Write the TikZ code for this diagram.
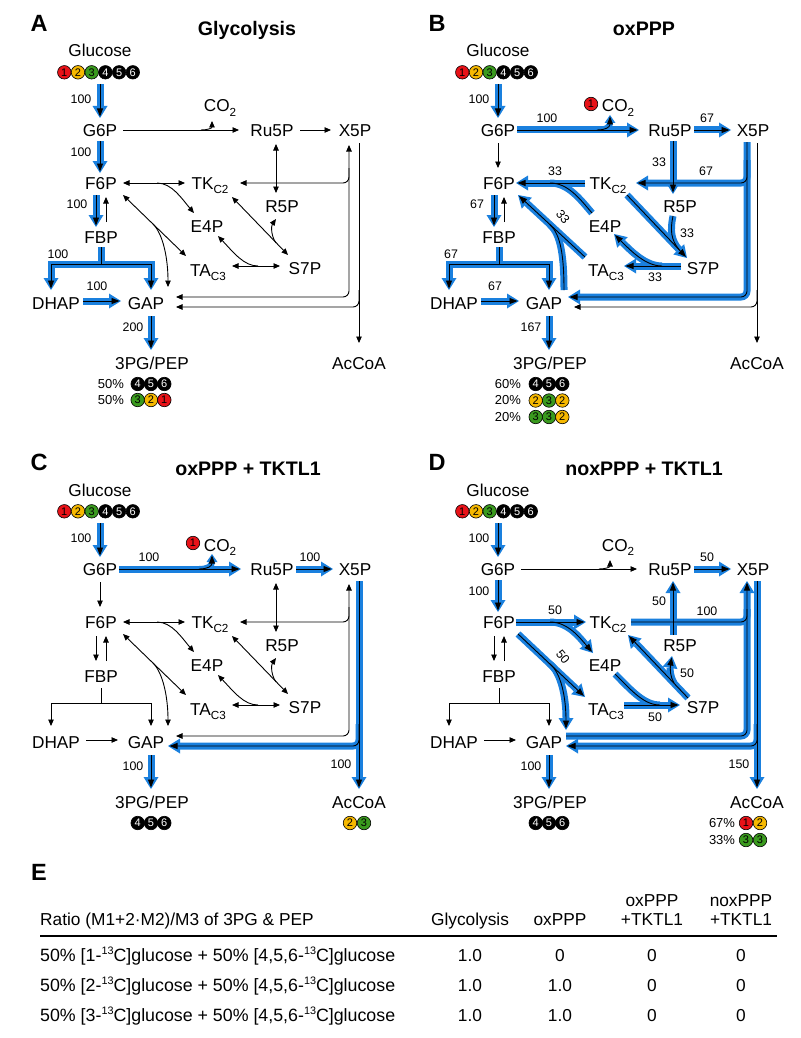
\documentclass[tikz,border=0pt]{standalone}
\usepackage{fontspec}
\setmainfont{Liberation Sans}
\usetikzlibrary{arrows.meta}
\definecolor{fluxblue}{RGB}{26,128,222}
\definecolor{cred}{RGB}{232,18,24}
\definecolor{cyel}{RGB}{246,184,0}
\definecolor{cgrn}{RGB}{58,154,30}
\pgfdeclarelayer{bg}
\pgfsetlayers{bg,main}
\newcommand{\sbs}[1]{\raisebox{-4.5pt}{\fontsize{11.7}{12}\selectfont #1}}
\newcommand{\sps}[1]{\raisebox{6.5pt}{\fontsize{10.8}{11}\selectfont #1}}
\newcommand{\fab}[3]{\begin{pgfonlayer}{bg}\draw[band,#1] #3;\end{pgfonlayer}\draw[innerarr,#2] #3;}
\newcommand{\fa}[2][]{\fab{#1}{#1}{#2}}
\newcommand{\cblk}[4]{\node[lbc,fill=black,text=white] (#1) at (#2,#3) {#4};}
\newcommand{\ccol}[5]{\node[lbc,fill=#5,text=black] (#1) at (#2,#3) {#4};}
\tikzset{
  met/.style={anchor=base, inner sep=0pt, font=\fontsize{17.2}{20}\selectfont},
  num/.style={inner sep=0pt, font=\fontsize{12.4}{14}\selectfont},
  pct/.style={inner sep=0pt, font=\fontsize{13}{15}\selectfont},
  ttl/.style={anchor=base, inner sep=0pt, font=\bfseries\fontsize{19.6}{22}\selectfont},
  plab/.style={anchor=base, inner sep=0pt, font=\bfseries\fontsize{23.5}{26}\selectfont},
  tab/.style={anchor=base, inner sep=0pt, font=\fontsize{17.3}{20}\selectfont},
  tabrow/.style={anchor=base west, inner sep=0pt, font=\fontsize{17.8}{20}\selectfont},
  lbc/.style={circle, draw=black, line width=0.6pt, minimum size=13.5pt, inner sep=0pt, font=\fontsize{11}{11}\selectfont},
  thn/.style={line width=0.9pt, -{Triangle[length=6.5pt,width=5.5pt]}},
  thnb/.style={line width=0.9pt, {Triangle[length=6.5pt,width=5.5pt]}-{Triangle[length=6.5pt,width=5.5pt]}},
  band/.style={line width=7pt, draw=fluxblue, -{Triangle[length=12pt,width=15pt,line width=0pt]}},
  innerarr/.style={line width=0.9pt, draw=black, -{Triangle[length=8pt,width=6pt]}, shorten >=1.5pt},
  nohead/.style={-, shorten >=0pt},
  co2band/.style={line width=6pt, -{Triangle[length=8pt,width=11pt,line width=0pt]}}
}
\newcommand{\mets}[1]{%
  \node[met] (#1-glc) at (100,57) {Glucose};
  \node[met] (#1-g6p) at (100,136) {G6P};
  \node[met] (#1-co2) at (220,112) {CO\sbs{2}};
  \node[met] (#1-ru5p) at (272,136) {Ru5P};
  \node[met] (#1-x5p) at (355,136) {X5P};
  \node[met] (#1-f6p) at (101,189) {F6P};
  \node[met] (#1-tk) at (210,189) {TK\sbs{C2}};
  \node[met] (#1-r5p) at (282,212) {R5P};
  \node[met] (#1-e4p) at (207,232) {E4P};
  \node[met] (#1-fbp) at (101,243) {FBP};
  \node[met] (#1-ta) at (208,276) {TA\sbs{C3}};
  \node[met] (#1-s7p) at (305,274) {S7P};
  \node[met] (#1-dhap) at (56,309) {DHAP};
  \node[met] (#1-gap) at (146,309) {GAP};
  \node[met] (#1-pg) at (152,369) {3PG/PEP};
  \node[met] (#1-accoa) at (359,369) {AcCoA};
  \ccol{#1-c1}{64.3}{72.3}{1}{cred}
  \ccol{#1-c2}{78}{72.3}{2}{cyel}
  \ccol{#1-c3}{91.7}{72.3}{3}{cgrn}
  \cblk{#1-c4}{105.4}{72.3}{4}
  \cblk{#1-c5}{119.1}{72.3}{5}
  \cblk{#1-c6}{132.8}{72.3}{6}
  \fa{(100,84) -- (100,118)}
  \fa{(151,316) -- (151,350)}
}
\newcommand{\midthin}{%
  \draw[thnb] (123,183) -- (185,183);
  \draw[thn] (157,183) .. controls (172,183) and (182,199) .. (194,213);
  \draw[thnb] (123,195) -- (186,256);
  \draw[thn] (153,224) .. controls (163,234) and (168,258) .. (168,287);
  \draw[thnb] (232,197) -- (288,255);
  \draw[thn] (276,243) .. controls (271,236) and (271,226) .. (276,219);
  \draw[thnb] (232,266) -- (280,266);
  \draw[thn] (258,266) .. controls (244,266) and (234,253) .. (218,236);
}
\newcommand{\gthin}{%
  \draw[thn] (123,130) -- (239,130);
  \draw[thn] (201,130) .. controls (208,130) and (212,128) .. (212,121);
}
\newcommand{\gblue}{%
  \fa{(119,130) -- (241,130)}
  \fab{co2band}{}{(199,130) .. controls (208,130) and (212,127) .. (212,115)}
}
\newcommand{\leftthin}{%
  \draw[thnb, rounded corners=6pt] (176,297) -| (349,145);
  \draw[thn, rounded corners=6pt] (349,168) |- (240,183);
}
\newcommand{\rightthin}{%
  \draw[thn] (359,143) -- (359,343);
  \draw[thn, rounded corners=6pt] (359,290) |- (176,307);
}
\newcommand{\rightblue}{%
  \fa{(359,142) -- (359,350)}
  \fa[rounded corners=6pt]{(359,285) |- (168,307)}
}
\newcommand{\lowblue}{%
  \fa{(96,195) -- (96,227)}
  \draw[thn] (106,222) -- (106,197);
  \fa[nohead]{(101,247) -- (101,264)}
  \fa{(101,264) -| (51,290)}
  \fa{(101,264) -| (151,290)}
  \fa{(83,301) -- (121,301)}
}
\newcommand{\lowthin}{%
  \draw[thn] (96,197) -- (96,222);
  \draw[thn] (106,222) -- (106,197);
  \draw[thn] (101,249) -- (101,264) -| (51,287);
  \draw[thn] (101,264) -| (151,287);
  \draw[thn] (86,301) -- (118,301);
}
\newcommand{\pgsix}[1]{%
  \cblk{#1-p4}{137.7}{384}{4}
  \cblk{#1-p5}{151}{384}{5}
  \cblk{#1-p6}{164.3}{384}{6}
}
\begin{document}
\begin{tikzpicture}[x=1pt,y={(0pt,-1pt)}]
\useasboundingbox (0,0) rectangle (800,1038);
\begin{pgfonlayer}{bg}\fill[white] (0,0) rectangle (800,1038);\end{pgfonlayer}

% ---------------- Panel A
\begin{scope}
  \mets{A}
  \node[plab] (A-lab) at (39,31.7) {A};
  \node[ttl] (A-ttl) at (247,36) {Glycolysis};
  \fa{(100,141) -- (100,173)}
  \gthin
  \draw[thn] (300,130) -- (331,130);
  \draw[thnb] (276,144) -- (276,193);
  \midthin
  \leftthin
  \rightthin
  \lowblue
  \node[num] (A-n1) at (81,99) {100};
  \node[num] (A-n2) at (81,152) {100};
  \node[num] (A-n3) at (77,204) {100};
  \node[num] (A-n4) at (58,254) {100};
  \node[num] (A-n5) at (97,286) {100};
  \node[num] (A-n6) at (133,327) {200};
  \node[pct] (A-q1) at (111,384) {50\%};
  \pgsix{A}
  \node[pct] (A-q2) at (111,400) {50\%};
  \ccol{A-r3}{137.7}{400}{3}{cgrn}
  \ccol{A-r2}{151}{400}{2}{cyel}
  \ccol{A-r1}{164.3}{400}{1}{cred}
\end{scope}

% ---------------- Panel B
\begin{scope}[shift={(398,0)}]
  \mets{B}
  \node[plab] (B-lab) at (39,31.7) {B};
  \node[ttl] (B-ttl) at (246,36) {oxPPP};
  \ccol{B-co2c}{193}{104}{1}{cred}
  \draw[thn] (100,143) -- (100,168);
  \gblue
  \fa{(296,130) -- (333,130)}
  \fa{(275,141) -- (275,194)}
  \fa{(187,183) -- (118,183)}
  \fa[nohead]{(194,213) .. controls (182,199) and (170,183) .. (152,183)}
  \fa{(187,257) -- (120,195)}
  \fa[nohead]{(166,290) .. controls (166,258) and (163,234) .. (152,225)}
  \fa{(229,195) -- (289,258)}
  \fa[nohead]{(275,216) .. controls (272,230) and (273,240) .. (281,249.5)}
  \fa{(283,266) -- (226,266)}
  \fa{(264,266) .. controls (248,266) and (234,252) .. (216,234)}
  \fa[rounded corners=6pt]{(349,142) |- (170,297)}
  \fa[rounded corners=6pt]{(349,160) |- (238,183)}
  \rightthin
  \lowblue
  \node[num] (B-n1) at (81,99) {100};
  \node[num] (B-n2) at (149,118) {100};
  \node[num] (B-n3) at (309,118) {67};
  \node[num] (B-n4) at (261,162) {33};
  \node[num] (B-n5) at (308,171) {67};
  \node[num] (B-n6) at (157,171) {33};
  \node[num, rotate=-50] (B-n7) at (165,217) {33};
  \node[num] (B-n8) at (289,233) {33};
  \node[num] (B-n9) at (257,277) {33};
  \node[num] (B-n10) at (79,204) {67};
  \node[num] (B-n11) at (53,254) {67};
  \node[num] (B-n12) at (97,286) {67};
  \node[num] (B-n13) at (133,327) {167};
  \node[pct] (B-q1) at (110,384) {60\%};
  \pgsix{B}
  \node[pct] (B-q2) at (110,400.5) {20\%};
  \ccol{B-r1}{137.7}{400.5}{2}{cyel}
  \ccol{B-r2}{151}{400.5}{3}{cgrn}
  \ccol{B-r3}{164.3}{400.5}{2}{cyel}
  \node[pct] (B-q3) at (110,417) {20\%};
  \ccol{B-s1}{137.7}{417}{3}{cgrn}
  \ccol{B-s2}{151}{417}{3}{cgrn}
  \ccol{B-s3}{164.3}{417}{2}{cyel}
\end{scope}

% ---------------- Panel C
\begin{scope}[shift={(0,439)}]
  \mets{C}
  \node[plab] (C-lab) at (39,31.7) {C};
  \node[ttl] (C-ttl) at (248,36) {oxPPP + TKTL1};
  \ccol{C-co2c}{193}{104}{1}{cred}
  \draw[thn] (100,143) -- (100,168);
  \gblue
  \fa{(296,130) -- (333,130)}
  \draw[thnb] (276,144) -- (276,193);
  \midthin
  \leftthin
  \rightblue
  \lowthin
  \node[num] (C-n1) at (81,99) {100};
  \node[num] (C-n2) at (149,118) {100};
  \node[num] (C-n3) at (310,118) {100};
  \node[num] (C-n4) at (341,325) {100};
  \node[num] (C-n5) at (133,327) {100};
  \pgsix{C}
  \ccol{C-a2}{350}{384}{2}{cyel}
  \ccol{C-a3}{364}{384}{3}{cgrn}
\end{scope}

% ---------------- Panel D
\begin{scope}[shift={(398,439)}]
  \mets{D}
  \node[plab] (D-lab) at (39,31.7) {D};
  \node[ttl] (D-ttl) at (246,36) {noxPPP + TKTL1};
  \fa{(100,141) -- (100,173)}
  \gthin
  \fa{(296,130) -- (333,130)}
  \fa[rounded corners=6pt]{(168,297) -| (349,142)}
  \fa[nohead,rounded corners=6pt]{(233,183) -| (349,170)}
  \fa{(275,196) -- (275,142)}
  \fa{(118,183) -- (188,183)}
  \fa{(152,183) .. controls (170,183) and (182,199) .. (195,214)}
  \fa{(120,195) -- (187,258)}
  \fa{(152,225) .. controls (163,234) and (168,258) .. (168,291)}
  \fa{(290,259) -- (230,196)}
  \fa{(276,244) .. controls (272,238) and (272,229) .. (274,217)}
  \fa{(226,266) -- (282,266)}
  \fa[nohead]{(217,235) .. controls (234,252) and (246,266) .. (262,266)}
  \rightblue
  \lowthin
  \node[num] (D-n1) at (81,99) {100};
  \node[num] (D-n2) at (81,152) {100};
  \node[num] (D-n3) at (309,118) {50};
  \node[num] (D-n4) at (261,162) {50};
  \node[num] (D-n5) at (157,171) {50};
  \node[num] (D-n6) at (309,172) {100};
  \node[num, rotate=-50] (D-n7) at (165,218) {50};
  \node[num] (D-n8) at (289,234) {50};
  \node[num] (D-n9) at (257,278) {50};
  \node[num] (D-n10) at (341,325) {150};
  \node[num] (D-n11) at (133,327) {100};
  \pgsix{D}
  \node[pct] (D-q1) at (324,384) {67\%};
  \ccol{D-a1}{348}{384}{1}{cred}
  \ccol{D-a2}{362}{384}{2}{cyel}
  \node[pct] (D-q2) at (324,401) {33\%};
  \ccol{D-b1}{348}{401}{3}{cgrn}
  \ccol{D-b2}{362}{401}{3}{cgrn}
\end{scope}

% ---------------- Panel E
\node[plab] (E-lab) at (39,880) {E};
\node[tab, anchor=base west] (E-h0) at (40,925) {Ratio (M1+2·M2)/M3 of 3PG \& PEP};
\node[tab] (E-h1) at (470,925) {Glycolysis};
\node[tab] (E-h2) at (560,925) {oxPPP};
\node[tab] (E-h3a) at (652,906) {oxPPP};
\node[tab] (E-h3b) at (652,925) {+TKTL1};
\node[tab] (E-h4a) at (741,906) {noxPPP};
\node[tab] (E-h4b) at (741,925) {+TKTL1};
\draw[line width=1.1pt] (40,936) -- (777,936);
\node[tabrow] (E-r1) at (40,961) {50\% [1-\sps{13}C]glucose + 50\% [4,5,6-\sps{13}C]glucose};
\node[tabrow] (E-r2) at (40,991) {50\% [2-\sps{13}C]glucose + 50\% [4,5,6-\sps{13}C]glucose};
\node[tabrow] (E-r3) at (40,1021) {50\% [3-\sps{13}C]glucose + 50\% [4,5,6-\sps{13}C]glucose};
\node[tab] (E-v11) at (470,961) {1.0};
\node[tab] (E-v12) at (560,961) {0};
\node[tab] (E-v13) at (652,961) {0};
\node[tab] (E-v14) at (741,961) {0};
\node[tab] (E-v21) at (470,991) {1.0};
\node[tab] (E-v22) at (560,991) {1.0};
\node[tab] (E-v23) at (652,991) {0};
\node[tab] (E-v24) at (741,991) {0};
\node[tab] (E-v31) at (470,1021) {1.0};
\node[tab] (E-v32) at (560,1021) {1.0};
\node[tab] (E-v33) at (652,1021) {0};
\node[tab] (E-v34) at (741,1021) {0};
\end{tikzpicture}
\end{document}
